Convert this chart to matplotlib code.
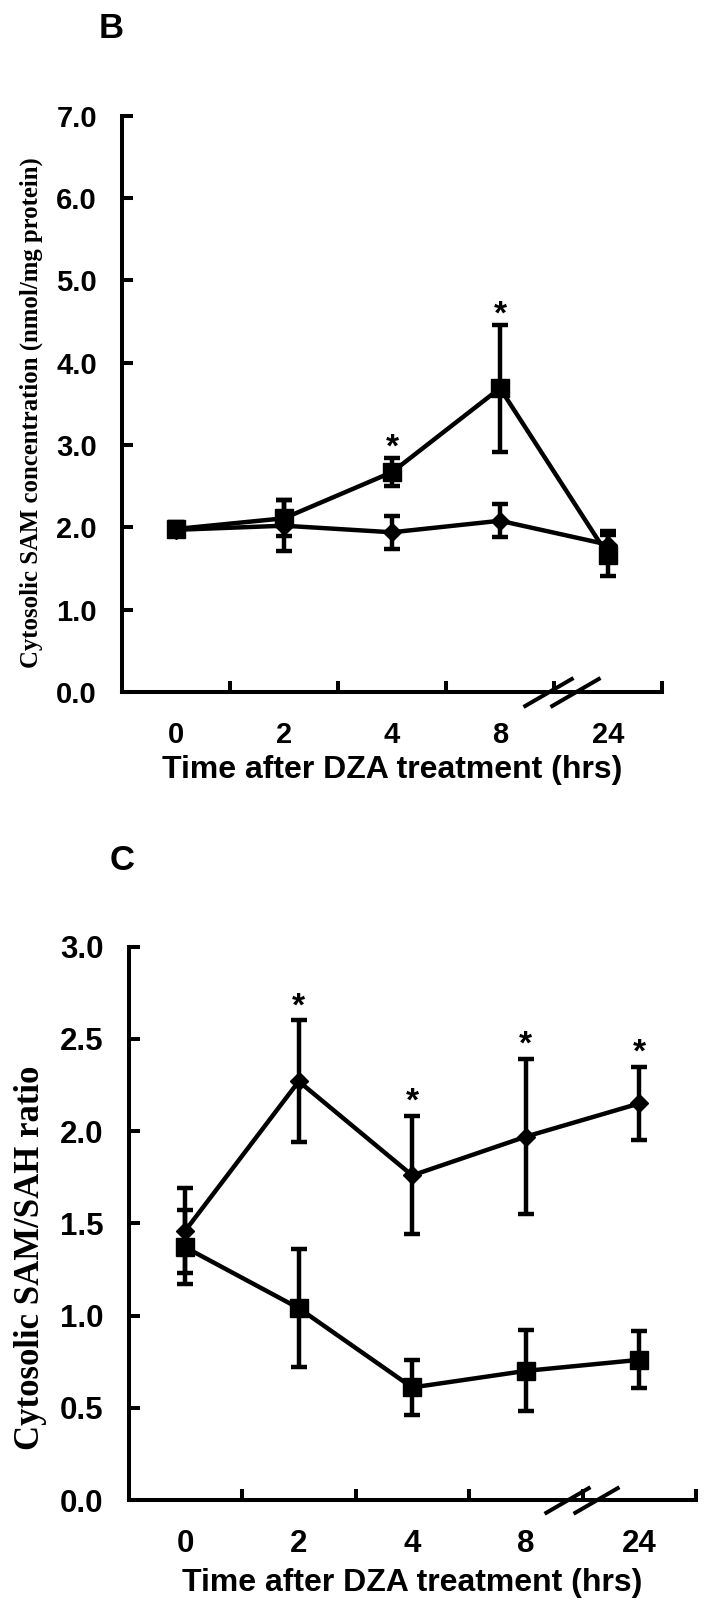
import numpy as np
import matplotlib.pyplot as plt
from matplotlib.ticker import FixedLocator, NullFormatter, FixedFormatter

plt.rcParams['font.family'] = ['Liberation Sans', 'DejaVu Sans']
plt.rcParams['font.weight'] = 'bold'

W, H = 715, 1623

time_labels = ['0', '2', '4', '8', '24']

# panel B: cytosolic SAM (nmol/mg protein)
sam_diamond = [1.97, 2.02, 1.94, 2.08, 1.79]
sam_diamond_err = [0.06, 0.31, 0.20, 0.20, 0.17]
sam_square = [1.98, 2.11, 2.67, 3.69, 1.66]
sam_square_err = [0.08, 0.22, 0.17, 0.77, 0.25]
sam_stars = [2, 3]          # starred time points (square series)

# panel C: cytosolic SAM/SAH ratio
ratio_diamond = [1.46, 2.27, 1.76, 1.97, 2.15]
ratio_diamond_err = [0.23, 0.33, 0.32, 0.42, 0.20]
ratio_square = [1.37, 1.04, 0.61, 0.70, 0.76]
ratio_square_err = [0.20, 0.32, 0.15, 0.22, 0.155]
ratio_stars = [1, 2, 3, 4]  # starred time points (diamond series)

LW = 3.2
slash = [(-0.5, -0.29), (0.5, 0.29)]


def draw_panel(ax, diam, diam_err, sq, sq_err, stars, star_series, ymax, ystep,
               breaks, fs, star_off, xpad, xlabelpad):
    x = np.arange(len(time_labels))
    ax.errorbar(x, diam, yerr=diam_err, fmt='-', marker='D', ms=9.5, color='k',
                lw=LW, elinewidth=LW, capsize=6, capthick=3.2, clip_on=False, zorder=3)
    ax.errorbar(x, sq, yerr=sq_err, fmt='-', marker='s', ms=13, color='k',
                lw=LW, elinewidth=LW, capsize=6, capthick=3.2, clip_on=False, zorder=4)

    vals, errs = (sq, sq_err) if star_series == 'square' else (diam, diam_err)
    for i in stars:
        ax.annotate('*', xy=(x[i], vals[i] + errs[i]), xytext=(0, star_off),
                    textcoords='offset points', ha='center', va='center',
                    fontsize=24, fontweight='bold')

    ax.set_xlim(-0.5, len(time_labels) - 0.5)
    ax.set_ylim(0, ymax)
    yt = np.arange(0, ymax + ystep / 2, ystep)
    ax.yaxis.set_major_locator(FixedLocator(yt))
    ax.yaxis.set_major_formatter(FixedFormatter([f'{v:.1f}' for v in yt]))
    ax.xaxis.set_major_locator(FixedLocator(np.arange(0.5, len(time_labels), 1)))
    ax.xaxis.set_major_formatter(NullFormatter())
    ax.xaxis.set_minor_locator(FixedLocator(x))
    ax.xaxis.set_minor_formatter(FixedFormatter(time_labels))

    for s in ['top', 'right']:
        ax.spines[s].set_visible(False)
    for s in ['left', 'bottom']:
        ax.spines[s].set_linewidth(2.9)
    ax.tick_params(which='major', direction='in', length=8, width=2.9,
                   labelsize=fs, pad=18)
    ax.tick_params(axis='x', which='minor', length=0, labelsize=fs, pad=xpad)
    ax.set_xlabel('Time after DZA treatment (hrs)', fontsize=23,
                  fontweight='bold', labelpad=xlabelpad)

    # axis break marks
    ax.plot(breaks[0], [0] * len(breaks[0]), linestyle='none', marker=slash,
            ms=breaks[1], mec='k', mfc='none', mew=2.9, clip_on=False, zorder=5)


fig = plt.figure(figsize=(W / 100, H / 100), dpi=100)

ax1 = fig.add_axes([122 / W, 1 - 692 / H, 540 / W, 576.3 / H])
draw_panel(ax1, sam_diamond, sam_diamond_err, sam_square, sam_square_err,
           sam_stars, 'square', 7.0, 1.0, ([3.44, 3.69], 36), 21,
           7, 21, 4)
fig.text(31 / W, 1 - 413 / H, 'Cytosolic SAM concentration (nmol/mg protein)',
         rotation=90, ha='center', va='center', fontsize=17.8,
         family=['Liberation Serif', 'DejaVu Serif'], fontweight='bold')
fig.text(111 / W, 1 - 28 / H, 'B', ha='center', va='center', fontsize=25,
         fontweight='bold')

ax2 = fig.add_axes([128.5 / W, 1 - 1500 / H, 567.5 / W, 553.3 / H])
draw_panel(ax2, ratio_diamond, ratio_diamond_err, ratio_square, ratio_square_err,
           ratio_stars, 'diamond', 3.0, 0.5, ([3.36, 3.62], 33), 22.5,
           10, 21, 6)
fig.text(31 / W, 1 - 1258 / H, 'Cytosolic SAM/SAH ratio',
         rotation=90, ha='center', va='center', fontsize=25,
         family=['Liberation Serif', 'DejaVu Serif'], fontweight='bold')
fig.text(122 / W, 1 - 860 / H, 'C', ha='center', va='center', fontsize=25,
         fontweight='bold')

fig.savefig('out.png', dpi=100)
